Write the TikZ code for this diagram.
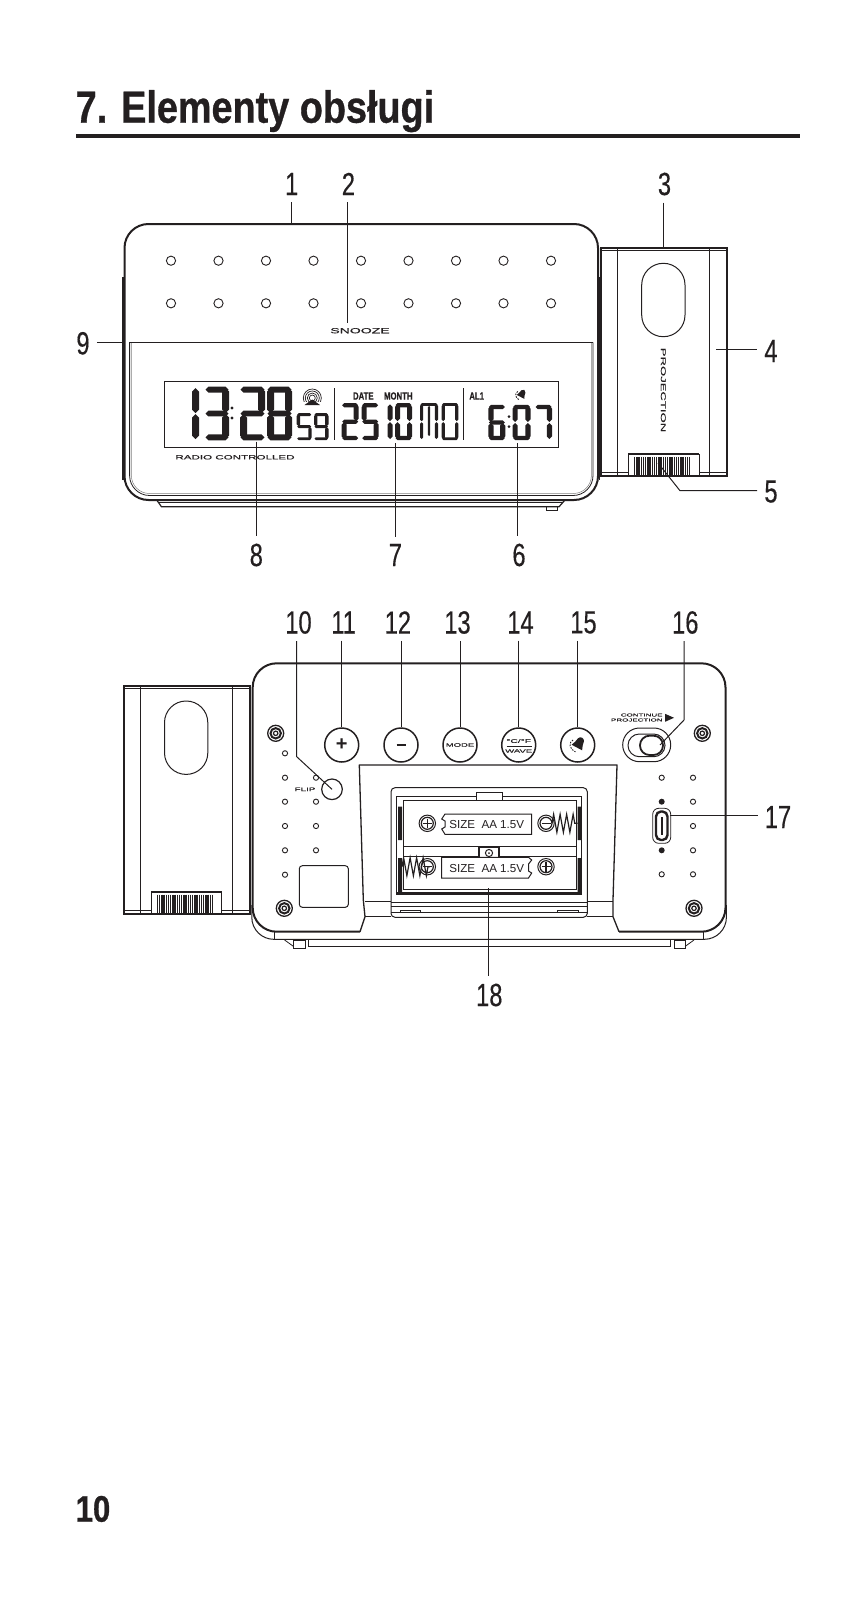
\documentclass[tikz,border=0pt]{standalone}
\usepackage{fontspec}
\setmainfont{Liberation Sans}
\usetikzlibrary{decorations.pathmorphing}
\newfontfamily\titlefont[FakeStretch=0.84,FakeBold=0.7]{Liberation Sans}
\newfontfamily\narrowfont[FakeStretch=0.74,FakeBold=0.35]{Liberation Sans}
\newfontfamily\widefont[FakeStretch=1.9,FakeBold=0.35]{Liberation Sans}
\definecolor{ink}{HTML}{231F20}
\newcommand{\hseg}[4]{\fill ({#1},{#3}) -- ({#1+#4/2},{#3-#4/2}) -- ({#2-#4/2},{#3-#4/2}) -- ({#2},{#3}) -- ({#2-#4/2},{#3+#4/2}) -- ({#1+#4/2},{#3+#4/2}) -- cycle;}
\newcommand{\vseg}[4]{\fill ({#1},{#2}) -- ({#1+#4/2},{#2+#4/2}) -- ({#1+#4/2},{#3-#4/2}) -- ({#1},{#3}) -- ({#1-#4/2},{#3-#4/2}) -- ({#1-#4/2},{#2+#4/2}) -- cycle;}
\newcommand{\sga}{\hseg{\dgx+.5}{\dgx+\dgw-.5}{\dgy+\dgt/2.6}{\dgt*.85}}
\newcommand{\sgg}{\hseg{\dgx+.5}{\dgx+\dgw-.5}{\dgy+\dgh/2}{\dgt*.85}}
\newcommand{\sgd}{\hseg{\dgx+.5}{\dgx+\dgw-.5}{\dgy+\dgh-\dgt/2.6}{\dgt*.85}}
\newcommand{\sgf}{\vseg{\dgx+\dgt/2}{\dgy+1}{\dgy+\dgh/2-.5}{\dgt}}
\newcommand{\sge}{\vseg{\dgx+\dgt/2}{\dgy+\dgh/2+.5}{\dgy+\dgh-1}{\dgt}}
\newcommand{\sgb}{\vseg{\dgx+\dgw-\dgt/2}{\dgy+1}{\dgy+\dgh/2-.5}{\dgt}}
\newcommand{\sgc}{\vseg{\dgx+\dgw-\dgt/2}{\dgy+\dgh/2+.5}{\dgy+\dgh-1}{\dgt}}
% x, top, width, height, stroke, segments
\newcommand{\segdigit}[6]{\def\dgx{#1}\def\dgy{#2}\def\dgw{#3}\def\dgh{#4}\def\dgt{#5}%
  \foreach \sg in {#6}{\csname sg\sg\endcsname}}
\tikzset{
  label/.style={font=\narrowfont\fontsize{32}{32}\selectfont,inner sep=7pt},
  leader/.style={line width=1},
  rim/.style={line width=2},
  thinline/.style={line width=.8},
  hole/.style={line width=.9,fill=white},
  tinytext/.style={font=\widefont\fontsize{#1}{#1}\selectfont,inner sep=0pt},
  pushbutton/.style={draw,circle,line width=1.5,minimum size=34pt,inner sep=0pt,fill=white},
  projector/.pic={
    \draw[line width=2] (0,0) rectangle (126,228);
    \draw[thinline] (0,2.4) -- (126,2.4) (0,224.5) -- (126,224.5);
    \draw[line width=1] (16.6,0) -- (16.6,228) (108.6,0) -- (108.6,228);
    \draw[line width=1,rounded corners=21.6] (41,15) rectangle (84.3,88.4);
    \draw[thinline,fill=white] (27.5,228) -- (27.5,205.7) -- (98.3,205.7) -- (98.3,228);
    \draw[line width=1.8] (27.5,206) -- (98.3,206);
    \foreach \hx in {34,36.2,...,91}{\draw[line width=1.35] (\hx,208.5) -- (\hx,227);}
    \draw[line width=2] (0,228) -- (126,228);
  },
  screwmark/.pic={
    \draw[line width=1.3] (0,0) circle[radius=8];
    \draw[line width=2] (0,0) circle[radius=5.2];
    \draw[line width=1.2] (0,0) circle[radius=2.2];
  },
  bellmark/.pic={
    \begin{scope}[rotate=-28]
      \fill (0,-5.5) .. controls (3,-5.5) and (3.2,-2) .. (3.5,0) .. controls (3.8,2) and (5,3) .. (5,3.8) -- (-5,3.8) .. controls (-5,3) and (-3.8,2) .. (-3.5,0) .. controls (-3.2,-2) and (-3,-5.5) .. (0,-5.5) -- cycle;
    \end{scope}
    \draw[line width=.9,dash pattern=on 1.6pt off 1.2pt] (-5,-3) .. controls (-9,-1) and (-8,5) .. (-3,7);
  },
  polemark/.pic={
    \draw[line width=1,fill=white] (0,0) circle[radius=8.2];
    \draw[line width=1.2] (0,0) circle[radius=6];
  },
  springcoil/.style={line width=1.2,decorate,decoration={zigzag,segment length=6.5pt,amplitude=9pt}},
}
\begin{document}
\begin{tikzpicture}[x=1pt,y=-1pt,color=ink]
\useasboundingbox (0,0) rectangle (865,1600);
% heading
\node[anchor=base west,inner sep=0pt,font=\titlefont\bfseries\fontsize{45}{45}\selectfont] (heading) at (75.5,122.7) {7. Elementy obsługi};
\fill (75.5,134) rectangle (800,137.7);
\node[anchor=base west,inner sep=0pt,font=\titlefont\bfseries\fontsize{37}{37}\selectfont] (pagenr) at (75.5,1521.7) {10};

% front view
\draw[rim,rounded corners=24] (124.5,224) rectangle (598,500);
\draw[line width=1.2] (123,277) -- (123,480) (599.6,277) -- (599.6,480);
\draw[thinline,rounded corners=20] (129.6,342.3) -- (129.6,495.5) -- (593,495.5) -- (593,342.3);
\draw[thinline] (129.2,342.3) -- (593.4,342.3);
\draw[line width=.5,gray,rounded corners=18] (131.4,343) -- (131.4,493.5) -- (591.4,493.5) -- (591.4,343);
\draw[line width=1.2] (156.7,500) -- (161.5,506.8) -- (559,506.8) -- (565,500);
\draw[line width=.8] (159,502.5) -- (562,502.5);
\draw[thinline] (546,507) -- (546,510) -- (557,510) -- (557,507);
\foreach \col in {0,...,8}{
  \draw[hole] ({171+47.5*\col},260.7) circle[radius=4.6];
  \draw[hole] ({171+47.5*\col},303.3) circle[radius=4.6];
}
\node[tinytext=7.4] (snooze) at (360,330.7) {SNOOZE};
\draw[line width=.9] (164.3,381) rectangle (558,447.3);
\node[tinytext=6.1] (radio) at (235,457.3) {RADIO CONTROLLED};
% display
\segdigit{191}{387}{8}{53}{7}{b,c}
\segdigit{205}{387}{24}{53}{6.8}{a,b,g,c,d}
\segdigit{240}{387}{25}{53}{7}{a,b,g,e,d}
\segdigit{267}{387}{25}{53}{7}{a,b,c,d,e,f,g}
\fill (232,408) circle[radius=1.6] (232,418) circle[radius=1.6];
\segdigit{296.7}{413.3}{15}{26.7}{3.4}{a,f,g,c,d}
\segdigit{314}{413.3}{14.5}{26.7}{3.4}{a,b,f,g,c,d}
\segdigit{341.7}{403.3}{17}{36.7}{5}{a,b,g,e,d}
\segdigit{361.7}{403.3}{17}{36.7}{5}{a,f,g,c,d}
\segdigit{387.5}{403.3}{5}{36.7}{5}{b,c}
\segdigit{395}{403.3}{17}{36.7}{5}{a,b,c,d,e,f}
\segdigit{420}{403.3}{18}{36.7}{3.2}{a,b,c,e,f}
\vseg{429}{406}{436}{2.4}
\segdigit{441.7}{403.3}{16.6}{36.7}{3.2}{a,b,c,d,e,f}
\segdigit{488.3}{405}{17}{35}{5.2}{a,f,g,e,c,d}
\fill (509,416.7) circle[radius=1.5] (509,426.7) circle[radius=1.5];
\segdigit{512.5}{405}{18}{35}{5.2}{a,b,c,d,e,f}
\segdigit{535}{405}{17}{35}{5.2}{a,b,c}
\draw[line width=1] (334,388) -- (334,440) (463,388) -- (463,440);
\foreach \rr in {3,5,7,9}{\draw[line width=.7] (312.3,398) circle[radius=\rr];}
\fill[white] (303,402) rectangle (322,409);
\fill (312.3,399.5) -- (320,405) -- (304.5,405) -- cycle;
\node[inner sep=0pt,font=\narrowfont\bfseries\fontsize{10.5}{10.5}\selectfont] (lcddate) at (363.3,396) {DATE};
\node[inner sep=0pt,font=\narrowfont\bfseries\fontsize{10.5}{10.5}\selectfont] (lcdmonth) at (398.3,396) {MONTH};
\node[inner sep=0pt,font=\narrowfont\bfseries\fontsize{10.5}{10.5}\selectfont] (lcdal) at (476.7,396) {AL1};
\pic[scale=.85] at (522,394) {bellmark};
% projector, front
\pic at (600.7,248.3) {projector};
\node[tinytext=6.9,rotate=-90] (projtext) at (663.3,390) {PROJECTION};

% leaders, front
\coordinate (t1) at (291.7,224);
\coordinate (t2) at (347.5,323);
\coordinate (t3) at (663.5,248);
\coordinate (t4) at (716,349.3);
\coordinate (t5) at (658,463);
\coordinate (b5) at (680,490.7);
\coordinate (t6) at (517.7,443);
\coordinate (t7) at (395,443);
\coordinate (t8) at (256.8,441.7);
\coordinate (t9) at (125,342.3);
\node[label] (n1) at (291.7,184) {1};
\node[label] (n2) at (348.4,184) {2};
\node[label] (n3) at (664.5,184) {3};
\node[label] (n4) at (771,351) {4};
\node[label] (n5) at (771,491.6) {5};
\node[label] (n6) at (519,555) {6};
\node[label] (n7) at (395.4,555) {7};
\node[label] (n8) at (256.3,555) {8};
\node[label] (n9) at (83,343.3) {9};
\draw[leader] (n1.south -| t1) -- (t1);
\draw[leader] (n2.south -| t2) -- (t2);
\draw[leader] (n3.south -| t3) -- (t3);
\draw[leader] (t4) -- (n4.west |- t4);
\draw[leader] (t5) -- (b5) -- (n5.west |- b5);
\draw[leader] (t6) -- (n6.north -| t6);
\draw[leader] (t7) -- (n7.north -| t7);
\draw[leader] (t8) -- (n8.north -| t8);
\draw[leader] (n9.east |- t9) -- (t9);

% back view
\pic at (123.5,686) {projector};
\draw[rim] (360,931.7) [rounded corners=24] -- (252.7,931.7) -- (252.7,663.3) -- (725.5,663.3) -- (725.5,931.7) [sharp corners] -- (619,931.7);
\draw[line width=1.2] (250.7,717) -- (250.7,820);
\draw[line width=1.3,line join=round] (360,931.7) -- (365,916.7) -- (363.3,900) -- (359.3,765) -- (617,765) -- (613,900) -- (613,916.7) -- (619,931.7);
\draw[line width=1,rounded corners=22] (251.8,905) -- (251.8,939.3) -- (726.4,939.3) -- (726.4,905);
\draw[thinline] (274.6,931.7) -- (274.6,939.3) (703.6,931.7) -- (703.6,939.3);
\draw[thinline] (308,939.3) -- (308,946) -- (670.4,946) -- (670.4,939.3);
\draw[thinline] (284.6,940) -- (293.6,946.5) (685,946.5) -- (694,940);
\draw[thinline] (293.6,940) rectangle (305,948);
\draw[thinline] (674,940) rectangle (685,948);
\foreach \sx/\sy in {275.7/733.3,702.3/733.3,284.3/908.3,694/908.3}{\pic at (\sx,\sy) {screwmark};}
\foreach \dy in {753.3,777.7,801.7,826,850.3,874.7}{\draw[hole] (285,\dy) circle[radius=2.6];}
\foreach \dy in {777.7,801.7,826,850.3}{\draw[hole] (316,\dy) circle[radius=2.6];}
\foreach \dy in {777.7,801.7,826,850.3,874.3}{\draw[hole] (693,\dy) circle[radius=2.6];}
\draw[hole] (661.7,777.7) circle[radius=2.6];
\draw[hole] (661.7,874.3) circle[radius=2.6];
\fill (661.7,801.7) circle[radius=3] (661.7,850.3) circle[radius=3];
\draw[line width=1,rounded corners=3] (299.3,865.7) rectangle (348.3,907.3);
\node[tinytext=5.2] (fliptext) at (305,789.3) {FLIP};
\node[draw,circle,line width=1.2,minimum size=20.6pt,inner sep=0pt] (btnflip) at (332,789.3) {};
% buttons
\node[pushbutton,font=\bfseries\fontsize{20}{20}\selectfont] (btnplus) at (341.7,745) {+};
\node[pushbutton,font=\bfseries\fontsize{20}{20}\selectfont] (btnminus) at (401,745) {\raisebox{.5pt}{\rule{9pt}{2.4pt}}};
\node[pushbutton,font=\widefont\fontsize{5}{5}\selectfont] (btnmode) at (460,745) {MODE};
\node[pushbutton] (btnwave) at (518.7,745) {};
\node[tinytext=5.4] (wavetop) at (518.7,741) {°C/°F};
\node[tinytext=5] (wavelow) at (518.7,751) {WAVE};
\draw[thinline] (506.7,746) -- (531.7,746);
\node[pushbutton] (btnbell) at (577.7,745) {};
\pic[scale=1.2] at (579,743.5) {bellmark};
\node[tinytext=4.2,anchor=east] (conttext) at (662.7,715) {CONTINUE};
\node[tinytext=4.2,anchor=east] (projsmall) at (662.7,720) {PROJECTION};
\fill (665,713.8) -- (674,717.8) -- (665,721.8) -- cycle;
\draw[line width=1,rounded corners=16.8] (622.7,728) rectangle (670.7,761.7);
\draw[line width=1,rounded corners=11.3] (628,734) rectangle (665,756.7);
\draw[line width=1.8,rounded corners=9.5,fill=white] (640,735.7) rectangle (663,755);
% usb
\draw[line width=.8,rounded corners=6] (652.7,808.3) rectangle (670.7,843.3);
\draw[line width=2.4,rounded corners=5] (656,811.5) rectangle (667.5,840);
\fill (660.5,817) rectangle (663,835);
% battery bay
\draw[line width=1,rounded corners=4] (391,917.3) -- (391,787.7) -- (587.3,787.7) -- (587.3,917.3) -- cycle;
\draw[thinline] (365,901) -- (391,901) (587.3,901) -- (613,901) (365,916) -- (391,916) (587.3,916) -- (613,916);
\draw[thinline] (391,902) -- (587.3,902) (391,906.7) -- (587.3,906.7) (391,912.3) -- (587.3,912.3);
\draw[thinline] (400,912.3) -- (400,910.7) -- (420.7,910.7) -- (420.7,912.3) (557.3,912.3) -- (557.3,910.7) -- (578.3,910.7) -- (578.3,912.3);
\draw[line width=1] (396.7,893.5) -- (396.7,796.7) -- (581.7,796.7) -- (581.7,893.5);
\draw[line width=2.2] (396,893.5) -- (582.4,893.5);
\draw[thinline] (403.3,889) -- (403.3,800) -- (576.7,800) -- (576.7,889) -- cycle;
\draw[line width=1,fill=white] (476,792.7) rectangle (502.7,800.7);
\draw[line width=.9] (403.3,846.7) -- (576.7,846.7) (403.3,856) -- (576.7,856);
\fill (398,806.7) rectangle (402,840) (398,858) rectangle (402,892);
\fill (577.7,806.7) rectangle (581.5,840) (577.7,858) rectangle (581.5,892);
\draw[line width=1.6,fill=white] (479,847.3) rectangle (499,858.3);
\draw[line width=1] (489,853) circle[radius=3.6];
\fill (489,853) circle[radius=1];
% cells
\draw[line width=1,fill=white] (441.7,819) -- (445,814) -- (531.7,814) -- (531.7,834.3) -- (445,834.3) -- (441.7,829) -- (445,827) -- (445,821) -- cycle;
\draw[line width=1,fill=white] (441.7,857.3) -- (528.5,857.3) -- (531.7,860) -- (528.5,864) -- (528.5,871) -- (531.7,873) -- (528.5,878) -- (441.7,878) -- cycle;
\node[inner sep=0pt,font=\fontsize{11.6}{11.6}\selectfont] (cellupper) at (486.7,824) {SIZE\ \ AA 1.5V};
\node[inner sep=0pt,font=\fontsize{11.6}{11.6}\selectfont] (celllower) at (486.7,868.7) {SIZE\ \ AA 1.5V};
\pic at (427.3,823.3) {polemark};
\pic at (546,823.3) {polemark};
\pic at (546,866.7) {polemark};
\pic at (427.3,866.7) {polemark};
\draw[springcoil] (552,823.3) -- (577.5,823.3);
\draw[springcoil] (402,866.7) -- (430,866.7);
\draw[line width=1.4] (422.5,823.3) -- (432,823.3) (427.3,818.5) -- (427.3,828);
\draw[line width=1.4] (541.5,866.7) -- (550.5,866.7) (546,862) -- (546,871.5);
\draw[line width=1.4] (541.5,823.3) -- (550.5,823.3);
\draw[line width=1.4] (422.5,866.7) -- (432,866.7);

% leaders, back
\coordinate (b10) at (296.7,756.7);
\coordinate (b16) at (684,720);
\coordinate (t16) at (660,745);
\coordinate (t17) at (670,815.3);
\coordinate (t18) at (488.3,888);
\node[label] (n10) at (298.5,622.5) {10};
\node[label] (n11) at (343.6,622.5) {11};
\node[label] (n12) at (397.9,622.5) {12};
\node[label] (n13) at (457.5,622.5) {13};
\node[label] (n14) at (520.5,622.5) {14};
\node[label] (n15) at (583.5,622.5) {15};
\node[label] (n16) at (685.3,622.5) {16};
\node[label] (n17) at (778,817) {17};
\node[label] (n18) at (489.3,995) {18};
\draw[leader] (n10.south -| b10) -- (b10) -- (btnflip.center);
\draw[leader] (n11.south -| btnplus.north) -- (btnplus.north);
\draw[leader] (n12.south -| btnminus.north) -- (btnminus.north);
\draw[leader] (n13.south -| btnmode.north) -- (btnmode.north);
\draw[leader] (n14.south -| btnwave.north) -- (btnwave.north);
\draw[leader] (n15.south -| btnbell.north) -- (btnbell.north);
\draw[leader] (n16.south -| b16) -- (b16) -- (t16);
\draw[leader] (t17) -- (n17.west |- t17);
\draw[leader] (t18) -- (n18.north -| t18);
\end{tikzpicture}
\end{document}
